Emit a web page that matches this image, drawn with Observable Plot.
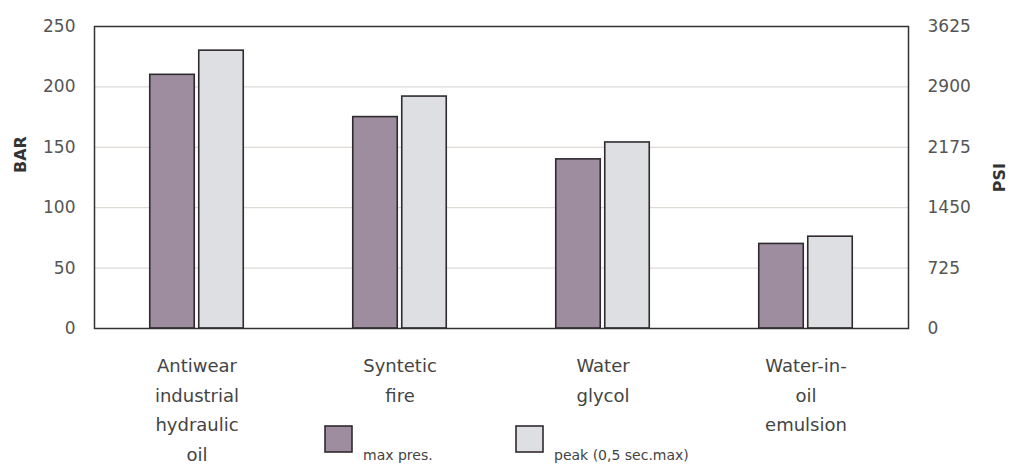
<!DOCTYPE html>
<html>
<head>
<meta charset="utf-8">
<script src="https://cdn.jsdelivr.net/npm/d3@7"></script>
<script src="https://cdn.jsdelivr.net/npm/@observablehq/plot@0.6"></script>
<style>
  html, body { margin: 0; padding: 0; background: #ffffff; }
  #chart svg { display: block; }
</style>
</head>
<body>
<div id="chart"></div>
<script>
// ---- data ----
const categories = ["Antiwear\nindustrial\nhydraulic\noil", "Syntetic\nfire", "Water\nglycol", "Water-in-\noil\nemulsion"];
const maxPres = [210, 175, 140, 70];
const peakPres = [230, 192, 154, 76];
const barTicks = [0, 50, 100, 150, 200, 250];
const psiFactor = 14.5;
const seriesNames = ["max pres.", "peak (0,5 sec.max)"];
const axisLabelLeft = "BAR";
const axisLabelRight = "PSI";

const rows = categories.map((c, i) => ({cat: c, max: maxPres[i], peak: peakPres[i]}));

const W = 1011, H = 464;
const ml = 94, mr = 103, mt = 26, mb = 136;
const bw = (W - ml - mr) / categories.length;
const barW = 47, gap = 2;

const colMax = "#9d8d9f";
const colPeak = "#dedfe2";
const colStroke = "#2f2a30";
const font = "'DejaVu Sans', Verdana, sans-serif";

const chart = Plot.plot({
  width: W,
  height: H,
  marginLeft: ml,
  marginRight: mr,
  marginTop: mt,
  marginBottom: mb,
  style: {fontFamily: font, background: "#ffffff"},
  x: {domain: categories, padding: 0, axis: null},
  y: {domain: [0, 250], axis: null},
  marks: [
    Plot.gridY(barTicks.filter(d => d > 0 && d < 250), {stroke: "#d6d0cb", strokeOpacity: 1, strokeWidth: 1}),
    Plot.barY(rows, {x: "cat", y: "max", fill: colMax, stroke: colStroke, strokeWidth: 1.6,
      insetLeft: bw / 2 - barW, insetRight: bw / 2 + gap}),
    Plot.barY(rows, {x: "cat", y: "peak", fill: colPeak, stroke: colStroke, strokeWidth: 1.6,
      insetLeft: bw / 2 + gap, insetRight: bw / 2 - barW}),
    Plot.frame({stroke: "#333", strokeWidth: 1.5}),
    Plot.axisY({anchor: "left", ticks: barTicks, tickSize: 0, tickPadding: 19, fontSize: 17, fill: "#555", label: null}),
    Plot.axisY({anchor: "right", ticks: barTicks, tickSize: 0, tickPadding: 19, fontSize: 17, fill: "#555",
      tickFormat: d => String(d * psiFactor), label: null}),
    Plot.text(rows, {x: "cat", y: 0, text: "cat", lineAnchor: "top", dy: 23, lineHeight: 1.64,
      fontSize: 18, fill: "#444"}),
    Plot.text([axisLabelLeft], {frameAnchor: "left", dx: -74, dy: -4.5, rotate: -90, fontWeight: "bold", fontSize: 16,
      fill: "#333", letterSpacing: "5px"}),
    Plot.text([axisLabelRight], {frameAnchor: "right", dx: 91, dy: -14.5, rotate: -90, fontWeight: "bold", fontSize: 16,
      fill: "#333", letterSpacing: "3px"})
  ]
});

// legend drawn into the same SVG
const svg = d3.select(chart);
const lg = svg.append("g").attr("font-family", font).attr("text-anchor", "start");
const legendItems = [
  {name: seriesNames[0], fill: colMax, x: 325},
  {name: seriesNames[1], fill: colPeak, x: 516}
];
legendItems.forEach(it => {
  lg.append("rect").attr("x", it.x).attr("y", 426).attr("width", 27).attr("height", 26)
    .attr("fill", it.fill).attr("stroke", colStroke).attr("stroke-width", 1.6);
  lg.append("text").attr("x", it.x + 38).attr("y", 460).attr("font-size", 14).attr("fill", "#444").text(it.name);
});

document.getElementById("chart").appendChild(chart);
</script>
</body>
</html>
